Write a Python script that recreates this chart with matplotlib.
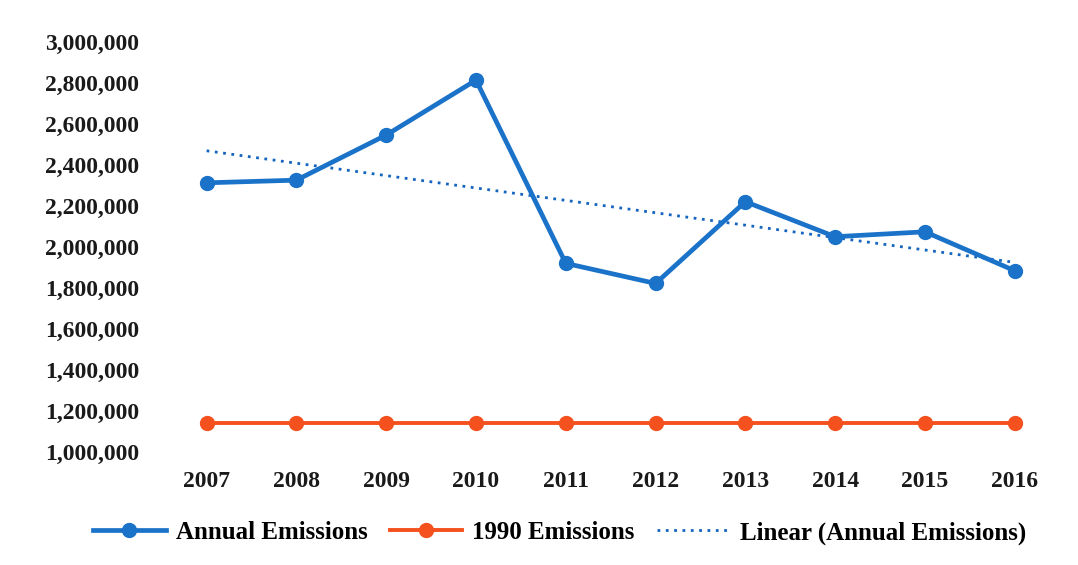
import numpy as np
import matplotlib
matplotlib.use("Agg")
import matplotlib.pyplot as plt
from matplotlib.ticker import FuncFormatter

# data
years = ["2007", "2008", "2009", "2010", "2011", "2012", "2013", "2014", "2015", "2016"]
annual = [2312000, 2325000, 2545000, 2813000, 1919000, 1821000, 2220000, 2049000, 2073000, 1883000]
base_1990 = [1141000] * 10

plt.rcParams["font.family"] = ["Liberation Serif", "DejaVu Serif"]
plt.rcParams["font.weight"] = "bold"

x = np.arange(len(years))
slope, icpt = np.polyfit(x, annual, 1)
trend = slope * x + icpt

fig = plt.figure(figsize=(10.78, 5.65), dpi=100)
ax = fig.add_axes([0.150, 0.2005, 0.833, 0.7255])

ax.plot(x, annual, color="#1A73C9", lw=3.4, marker="o", markersize=10,
        label="Annual Emissions", zorder=3)
ax.plot(x, base_1990, color="#F4511E", lw=2.8, marker="o", markersize=10,
        label="1990 Emissions", zorder=3)
ax.plot(x, trend, color="#1565C0", lw=2, linestyle=(0, (1, 2)),
        label="Linear (Annual Emissions)", zorder=2)

ax.set_xlim(-0.5, len(years) - 0.5)
ax.set_ylim(1000000, 3000000)
ax.set_yticks(np.arange(1000000, 3000001, 200000))
ax.yaxis.set_major_formatter(FuncFormatter(lambda v, p: f"{int(v):,}"))
ax.set_xticks(x)
ax.set_xticklabels(years)
ax.tick_params(axis="y", length=0, pad=16, labelsize=17, labelcolor="#1a1a1a")
ax.tick_params(axis="x", length=0, pad=14, labelsize=17, labelcolor="#1a1a1a")
for s in ax.spines.values():
    s.set_visible(False)

ax.legend(loc="center", bbox_to_anchor=(0.443, -0.198), ncol=3, frameon=False,
          fontsize=18, handlelength=2.9, handletextpad=0.4, columnspacing=0.9)

fig.savefig("out.png", dpi=100)
